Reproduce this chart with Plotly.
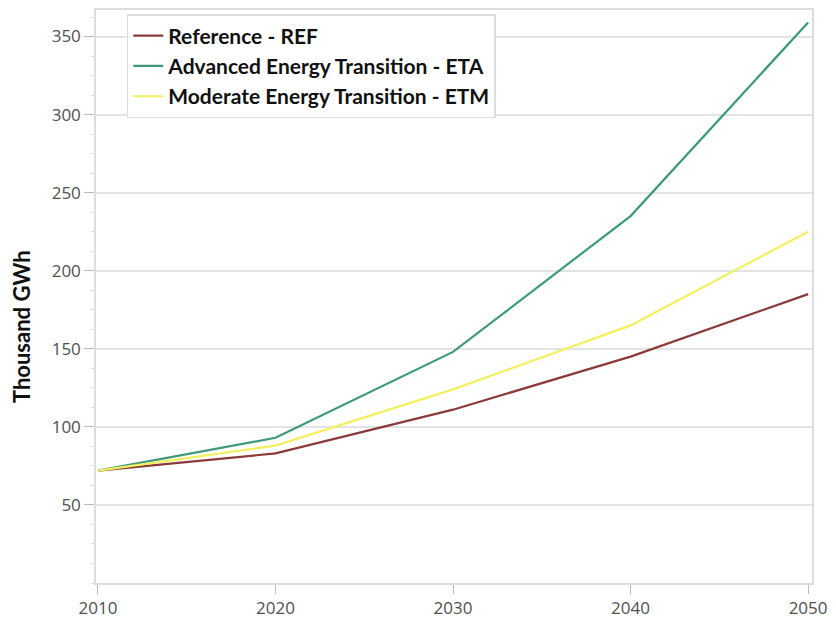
import plotly.graph_objects as go

years = [2010, 2020, 2030, 2040, 2050]
ref_vals = [72, 83, 111, 145, 185]
eta_vals = [72, 93, 148, 235, 359]
etm_vals = [72, 88, 124, 165, 225]

names = ["Reference - REF", "Advanced Energy Transition - ETA", "Moderate Energy Transition - ETM"]
colors = ["#8B3A3A", "#3D9A78", "#F2F060"]

fig = go.Figure()
for name, vals, col in zip(names, [ref_vals, eta_vals, etm_vals], colors):
    fig.add_trace(go.Scatter(x=years, y=vals, mode="lines", name=name,
                             line=dict(color=col, width=2.2)))

fig.update_layout(
    width=820, height=611,
    margin=dict(l=88, r=16, t=2, b=36),
    plot_bgcolor="white", paper_bgcolor="white",
    font=dict(family="Open Sans", color="#505050", size=17),
    showlegend=True,
    legend=dict(x=0.043, y=0.993, xanchor="left", yanchor="top",
                bgcolor="white", bordercolor="#DDDDDD", borderwidth=1.5,
                font=dict(family="Lato", size=21, color="#111111", weight="bold"),
                itemwidth=30, tracegroupgap=0),
)
fig.update_xaxes(range=[2009.89, 2050.22], tickvals=years, ticktext=[str(y) for y in years],
                 showgrid=False, showline=True, linecolor="#DDDDDD", linewidth=1.5,
                 mirror=True, ticks="outside", ticklen=9, tickcolor="#BBBBBB",
                 zeroline=False, automargin=False, tickfont=dict(size=17, color="#505050"))
fig.update_yaxes(range=[0, 367], tickvals=[50, 100, 150, 200, 250, 300, 350],
                 showgrid=True, gridcolor="#E3E3E3", gridwidth=1.5,
                 showline=True, linecolor="#DDDDDD", linewidth=1.5, mirror=True,
                 ticks="outside", ticklen=10, tickcolor="#BBBBBB", zeroline=False,
                 automargin=False,
                 minor=dict(dtick=12.5, tick0=0, ticks="outside", ticklen=3, tickcolor="#DDDDDD", showgrid=False),
                 tickfont=dict(size=17, color="#505050"))
fig.add_annotation(text="<b>Thousand GWh</b>", xref="paper", yref="paper",
                   x=-0.103, y=0.447, textangle=-90, showarrow=False,
                   font=dict(family="Lato", size=22, color="#111111"),
                   xanchor="center", yanchor="middle")

fig.write_html("out.html")
